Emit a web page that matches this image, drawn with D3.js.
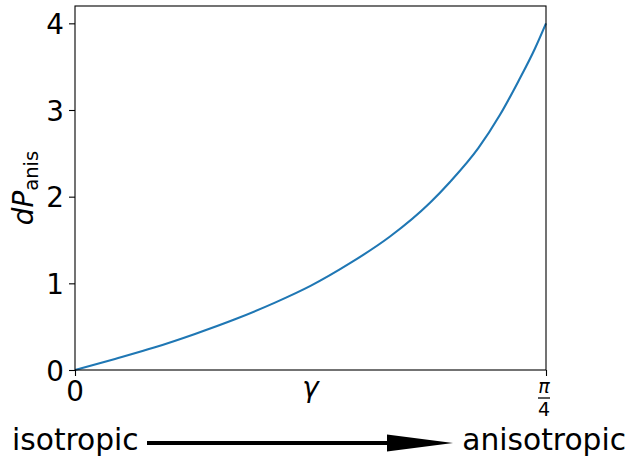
<html>
<head>
	<script src="https://d3js.org/d3.v7.min.js"></script>
	<style>
		body { margin: 0; background: #fff; }
		text { font-family: "DejaVu Sans", sans-serif; fill: #000; }
	</style>
</head>
<body>
	<div id="chart"></div>
	<script type="text/javascript">

		// gamma (rad) and dP_anis
		var gamma = [0, 0.0667, 0.1334, 0.2001, 0.2668, 0.3335, 0.3927, 0.4586, 0.5253, 0.5920, 0.6253, 0.6725, 0.7087, 0.7392, 0.7670, 0.7854];
		var dP    = [0, 0.128, 0.262, 0.416, 0.585, 0.777, 0.97, 1.232, 1.54, 1.93, 2.17, 2.56, 2.945, 3.33, 3.71, 4.0];

		var yTicks = [0, 1, 2, 3, 4];
		var xTicks = [0, Math.PI / 4];
		var xTickLabels = ["0", ["π", "4"]];

		var width = 628, height = 457;
		var margin = {top: 6, right: 82, bottom: 87, left: 75};
		var fs = 27.8;

		var svg = d3.select('#chart')
					.append('svg')
						.attr('width', width)
						.attr('height', height);

		var x = d3.scaleLinear()
			.domain([0, Math.PI / 4])
			.range([margin.left, width - margin.right]);

		var y = d3.scaleLinear()
			.domain([0, 4.2])
			.range([height - margin.bottom, margin.top]);

		var data = gamma.map((g, i) => ({g: g, v: dP[i]}));

		var line = d3.line()
			.x((d) => x(d.g))
			.y((d) => y(d.v))
			.curve(d3.curveMonotoneX);

		svg.append('path')
			.datum(data)
			.attr('d', line)
			.attr('fill', 'none')
			.attr('stroke', '#1f77b4')
			.attr('stroke-width', 2.1);

		// frame
		svg.append('rect')
			.attr('x', x(0))
			.attr('y', y(4.2))
			.attr('width', x(Math.PI / 4) - x(0))
			.attr('height', y(0) - y(4.2))
			.attr('fill', 'none')
			.attr('stroke', '#000')
			.attr('stroke-width', 1.1);

		// y axis
		var yAxis = svg.append('g')
			.attr('transform', 'translate(' + margin.left + ',0)')
			.call(d3.axisLeft(y).tickValues(yTicks).tickSize(6).tickPadding(5).tickFormat(d3.format('d')));
		yAxis.select('.domain').remove();
		yAxis.selectAll('line').attr('stroke', '#000').attr('stroke-width', 1.1);
		yAxis.selectAll('text').attr('font-size', fs).attr('font-family', 'DejaVu Sans').attr('dy', '0.36em');

		// x axis
		var xAxis = svg.append('g')
			.attr('transform', 'translate(0,' + (height - margin.bottom) + ')')
			.call(d3.axisBottom(x).tickValues(xTicks).tickSize(6).tickFormat(''));
		xAxis.select('.domain').remove();
		xAxis.selectAll('line').attr('stroke', '#000').attr('stroke-width', 1.1);

		svg.append('text')
			.attr('x', x(xTicks[0]))
			.attr('y', 401)
			.attr('text-anchor', 'middle')
			.attr('font-size', fs)
			.text(xTickLabels[0]);

		var fx = x(xTicks[1]) - 2;
		svg.append('text')
			.attr('x', fx)
			.attr('y', 393)
			.attr('text-anchor', 'middle')
			.attr('font-size', 19)
			.attr('font-style', 'italic')
			.text(xTickLabels[1][0]);
		svg.append('line')
			.attr('x1', fx - 6).attr('x2', fx + 6)
			.attr('y1', 398).attr('y2', 398)
			.attr('stroke', '#000').attr('stroke-width', 1.3);
		svg.append('text')
			.attr('x', fx)
			.attr('y', 416)
			.attr('text-anchor', 'middle')
			.attr('font-size', 19)
			.text(xTickLabels[1][1]);

		// axis labels
		svg.append('text')
			.attr('x', x(Math.PI / 8))
			.attr('y', 397)
			.attr('text-anchor', 'middle')
			.attr('font-size', fs)
			.attr('font-style', 'italic')
			.text('γ');

		var yl = svg.append('text')
			.attr('transform', 'translate(33,' + y(2.1) + ') rotate(-90)')
			.attr('text-anchor', 'middle')
			.attr('font-size', fs);
		yl.append('tspan').attr('font-style', 'italic').text('dP');
		yl.append('tspan').attr('font-size', 19.5).attr('dy', 5).text('anis');

		// isotropic -> anisotropic arrow
		svg.append('text')
			.attr('x', 12)
			.attr('y', 450)
			.attr('font-size', 29.7)
			.text('isotropic');
		svg.append('text')
			.attr('x', 626)
			.attr('y', 450)
			.attr('text-anchor', 'end')
			.attr('font-size', 29.7)
			.text('anisotropic');
		svg.append('line')
			.attr('x1', 147).attr('x2', 390)
			.attr('y1', 443).attr('y2', 443)
			.attr('stroke', '#000').attr('stroke-width', 4);
		svg.append('path')
			.attr('d', 'M387,434.5 L453,443 L387,451.5 Z')
			.attr('fill', '#000');
	</script>
</body>
</html>
